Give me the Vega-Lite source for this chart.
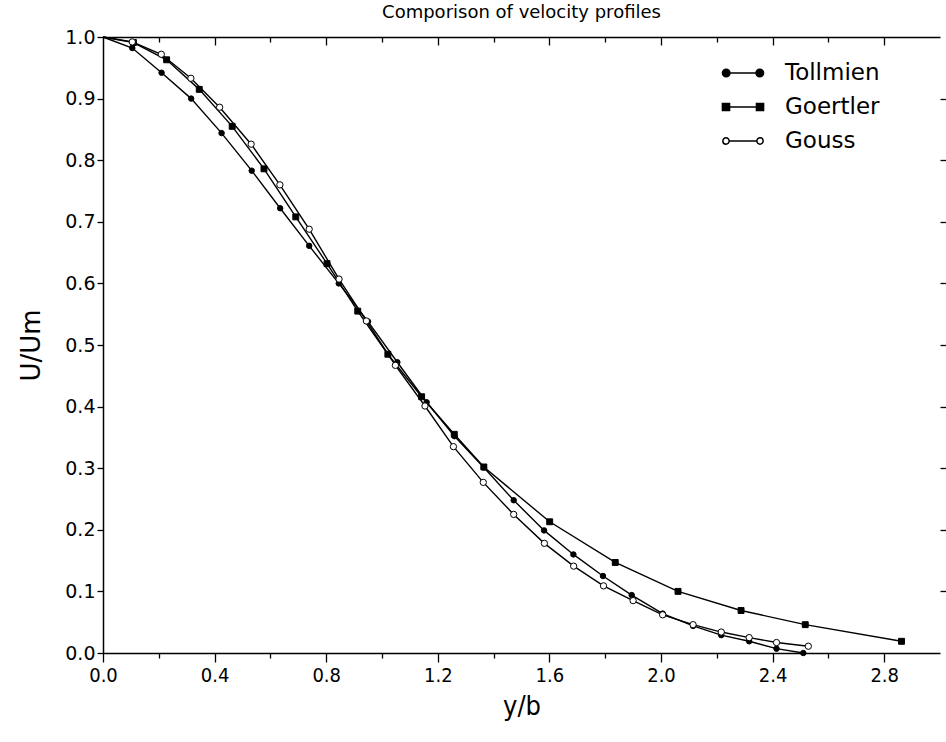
{
  "$schema": "https://vega.github.io/schema/vega-lite/v6.json",
  "width": 837,
  "height": 616,
  "autosize": {"type": "none"},
  "padding": {"left": 103, "top": 37, "right": 6, "bottom": 89},
  "background": "white",
  "title": {"text": "Comporison of velocity profiles", "font": "DejaVu Sans", "fontSize": 18, "fontWeight": "normal", "color": "black", "anchor": "middle", "offset": 6},
  "config": {"view": {"stroke": null}, "font": "DejaVu Sans"},
  "data": {"values": [
    {"s": "Tollmien", "x": 0, "y": 1.0},
    {"s": "Tollmien", "x": 0.105, "y": 0.982},
    {"s": "Tollmien", "x": 0.21, "y": 0.942},
    {"s": "Tollmien", "x": 0.316, "y": 0.9},
    {"s": "Tollmien", "x": 0.425, "y": 0.844},
    {"s": "Tollmien", "x": 0.533, "y": 0.783},
    {"s": "Tollmien", "x": 0.635, "y": 0.722},
    {"s": "Tollmien", "x": 0.739, "y": 0.661},
    {"s": "Tollmien", "x": 0.845, "y": 0.6},
    {"s": "Tollmien", "x": 0.95, "y": 0.538},
    {"s": "Tollmien", "x": 1.055, "y": 0.472},
    {"s": "Tollmien", "x": 1.16, "y": 0.407},
    {"s": "Tollmien", "x": 1.26, "y": 0.352},
    {"s": "Tollmien", "x": 1.365, "y": 0.301},
    {"s": "Tollmien", "x": 1.472, "y": 0.248},
    {"s": "Tollmien", "x": 1.581, "y": 0.199},
    {"s": "Tollmien", "x": 1.686, "y": 0.16},
    {"s": "Tollmien", "x": 1.792, "y": 0.125},
    {"s": "Tollmien", "x": 1.895, "y": 0.094},
    {"s": "Tollmien", "x": 2.006, "y": 0.064},
    {"s": "Tollmien", "x": 2.115, "y": 0.044},
    {"s": "Tollmien", "x": 2.216, "y": 0.029},
    {"s": "Tollmien", "x": 2.316, "y": 0.019},
    {"s": "Tollmien", "x": 2.414, "y": 0.007},
    {"s": "Tollmien", "x": 2.51, "y": 0.0},
    {"s": "Goertler", "x": 0, "y": 1.0},
    {"s": "Goertler", "x": 0.109, "y": 0.991},
    {"s": "Goertler", "x": 0.228, "y": 0.963},
    {"s": "Goertler", "x": 0.345, "y": 0.915},
    {"s": "Goertler", "x": 0.463, "y": 0.855},
    {"s": "Goertler", "x": 0.577, "y": 0.786},
    {"s": "Goertler", "x": 0.691, "y": 0.708},
    {"s": "Goertler", "x": 0.803, "y": 0.632},
    {"s": "Goertler", "x": 0.913, "y": 0.555},
    {"s": "Goertler", "x": 1.021, "y": 0.485},
    {"s": "Goertler", "x": 1.142, "y": 0.416},
    {"s": "Goertler", "x": 1.259, "y": 0.355},
    {"s": "Goertler", "x": 1.365, "y": 0.302},
    {"s": "Goertler", "x": 1.601, "y": 0.213},
    {"s": "Goertler", "x": 1.836, "y": 0.147},
    {"s": "Goertler", "x": 2.061, "y": 0.1},
    {"s": "Goertler", "x": 2.287, "y": 0.069},
    {"s": "Goertler", "x": 2.517, "y": 0.046},
    {"s": "Goertler", "x": 2.862, "y": 0.019},
    {"s": "Gouss", "x": 0, "y": 1.0},
    {"s": "Gouss", "x": 0.105, "y": 0.992},
    {"s": "Gouss", "x": 0.209, "y": 0.972},
    {"s": "Gouss", "x": 0.315, "y": 0.933},
    {"s": "Gouss", "x": 0.418, "y": 0.886},
    {"s": "Gouss", "x": 0.531, "y": 0.826},
    {"s": "Gouss", "x": 0.634, "y": 0.76},
    {"s": "Gouss", "x": 0.739, "y": 0.688},
    {"s": "Gouss", "x": 0.846, "y": 0.607},
    {"s": "Gouss", "x": 0.944, "y": 0.539},
    {"s": "Gouss", "x": 1.048, "y": 0.467},
    {"s": "Gouss", "x": 1.154, "y": 0.401},
    {"s": "Gouss", "x": 1.256, "y": 0.335},
    {"s": "Gouss", "x": 1.363, "y": 0.277},
    {"s": "Gouss", "x": 1.472, "y": 0.225},
    {"s": "Gouss", "x": 1.582, "y": 0.178},
    {"s": "Gouss", "x": 1.687, "y": 0.141},
    {"s": "Gouss", "x": 1.794, "y": 0.109},
    {"s": "Gouss", "x": 1.9, "y": 0.085},
    {"s": "Gouss", "x": 2.006, "y": 0.062},
    {"s": "Gouss", "x": 2.115, "y": 0.046},
    {"s": "Gouss", "x": 2.216, "y": 0.034},
    {"s": "Gouss", "x": 2.316, "y": 0.025},
    {"s": "Gouss", "x": 2.414, "y": 0.017},
    {"s": "Gouss", "x": 2.528, "y": 0.011}
  ]},
  "layer": [
    {
      "mark": {"type": "line", "color": "black", "strokeWidth": 1.4},
      "encoding": {
        "x": {"field": "x", "type": "quantitative", "scale": {"domain": [0, 3], "nice": false, "zero": false},
          "axis": {"orient": "bottom", "title": "y/b", "values": [0, 0.2, 0.4, 0.6, 0.8, 1.0, 1.2, 1.4, 1.6, 1.8, 2.0, 2.2, 2.4, 2.6, 2.8],
            "format": ".1f", "labelExpr": "round(datum.value*10) % 4 == 0 ? datum.label : ''",
            "grid": false, "domainColor": "black", "domainWidth": 1.5, "tickColor": "black", "tickWidth": 1.3,
            "tickSize": {"condition": {"test": "round(datum.value*10) % 4 == 0", "value": 9}, "value": 5},
            "labelFont": "DejaVu Sans Condensed", "labelFontSize": 20, "labelColor": "black", "labelPadding": 3, "labelFlush": false, "labelOverlap": false,
            "titleFont": "DejaVu Sans Condensed", "titleFontSize": 27, "titleFontWeight": "normal", "titleColor": "black", "titlePadding": 8}},
        "y": {"field": "y", "type": "quantitative", "scale": {"domain": [0, 1], "nice": false},
          "axis": {"orient": "left", "title": "U/Um", "values": [0, 0.1, 0.2, 0.3, 0.4, 0.5, 0.6, 0.7, 0.8, 0.9, 1.0], "format": ".1f",
            "grid": false, "domainColor": "black", "domainWidth": 1.5, "tickColor": "black", "tickWidth": 1.3, "tickSize": 6,
            "labelFont": "DejaVu Sans", "labelFontSize": 19, "labelColor": "black", "labelPadding": 2, "labelFlush": false, "labelOverlap": false,
            "titleFont": "DejaVu Sans", "titleFontSize": 26, "titleFontWeight": "normal", "titleColor": "black", "titlePadding": 20}},
        "detail": {"field": "s", "type": "nominal"}
      }
    },
    {
      "transform": [{"filter": "datum.x > 0"}],
      "mark": {"type": "point", "filled": true, "stroke": "black", "strokeWidth": 1, "opacity": 1},
      "encoding": {
        "x": {"field": "x", "type": "quantitative", "axis": null},
        "y": {"field": "y", "type": "quantitative", "axis": null},
        "shape": {"field": "s", "type": "nominal", "scale": {"domain": ["Tollmien", "Goertler", "Gouss"], "range": ["circle", "square", "circle"]}, "legend": null},
        "fill": {"field": "s", "type": "nominal", "scale": {"domain": ["Tollmien", "Goertler", "Gouss"], "range": ["black", "black", "white"]}, "legend": null},
        "size": {"field": "s", "type": "nominal", "scale": {"domain": ["Tollmien", "Goertler", "Gouss"], "range": [30, 40, 30]}, "legend": null}
      }
    },
    {
      "mark": {"type": "point", "filled": true, "opacity": 0, "strokeWidth": 1.5, "size": 1764},
      "encoding": {
        "x": {"field": "x", "type": "quantitative",
          "axis": {"orient": "top", "title": null, "labels": false, "values": [0.2, 0.4, 0.6, 0.8, 1.0, 1.2, 1.4, 1.6, 1.8, 2.0, 2.2, 2.4, 2.6, 2.8],
            "grid": false, "domainColor": "black", "domainWidth": 1.5, "tickColor": "black", "tickWidth": 1.3,
            "tickSize": {"condition": {"test": "round(datum.value*10) % 4 == 0", "value": -8}, "value": -5}}},
        "y": {"field": "y", "type": "quantitative",
          "axis": {"orient": "right", "title": null, "labels": false, "values": [0.1, 0.2, 0.3, 0.4, 0.5, 0.6, 0.7, 0.8, 0.9],
            "grid": false, "domain": false, "tickColor": "black", "tickWidth": 1.3, "tickSize": 6}},
        "shape": {"field": "s", "type": "nominal",
          "scale": {"domain": ["Tollmien", "Goertler", "Gouss"], "range": [
            "M-0.62,0 L0.62,0 M-0.62,0 A0.18,0.18 0 1,1 -0.98,0 A0.18,0.18 0 1,1 -0.62,0 Z M0.98,0 A0.18,0.18 0 1,1 0.62,0 A0.18,0.18 0 1,1 0.98,0 Z",
            "M-0.62,0 L0.62,0 M-0.98,-0.17 L-0.64,-0.17 L-0.64,0.17 L-0.98,0.17 Z M0.64,-0.17 L0.98,-0.17 L0.98,0.17 L0.64,0.17 Z",
            "M-0.66,0 L0.66,0 M-0.66,0 A0.15,0.15 0 1,1 -0.96,0 A0.15,0.15 0 1,1 -0.66,0 Z M0.96,0 A0.15,0.15 0 1,1 0.66,0 A0.15,0.15 0 1,1 0.96,0 Z"
          ]},
          "legend": {"title": null, "orient": "none", "legendX": 618, "legendY": 14, "padding": 0, "symbolSize": 1764, "symbolStrokeWidth": 1.5,
            "symbolStrokeColor": "black", "symbolOpacity": 1, "labelFont": "DejaVu Sans", "labelFontSize": 23, "labelColor": "black", "labelOffset": 20, "rowPadding": -8}},
        "fill": {"field": "s", "type": "nominal", "scale": {"domain": ["Tollmien", "Goertler", "Gouss"], "range": ["black", "black", "white"]},
          "legend": {"title": null, "orient": "none", "legendX": 618, "legendY": 14, "padding": 0, "symbolSize": 1764, "symbolStrokeWidth": 1.5,
            "symbolStrokeColor": "black", "symbolOpacity": 1, "labelFont": "DejaVu Sans", "labelFontSize": 23, "labelColor": "black", "labelOffset": 20, "rowPadding": -8}},
        "stroke": {"field": "s", "type": "nominal", "scale": {"domain": ["Tollmien", "Goertler", "Gouss"], "range": ["black", "black", "black"]},
          "legend": {"title": null, "orient": "none", "legendX": 618, "legendY": 14, "padding": 0, "symbolSize": 1764, "symbolStrokeWidth": 1.5,
            "symbolStrokeColor": "black", "symbolOpacity": 1, "labelFont": "DejaVu Sans", "labelFontSize": 23, "labelColor": "black", "labelOffset": 20, "rowPadding": -8}}
      }
    }
  ],
  "resolve": {"scale": {"shape": "independent", "fill": "independent", "size": "independent", "stroke": "independent"}, "axis": {"x": "independent", "y": "independent"}}
}
